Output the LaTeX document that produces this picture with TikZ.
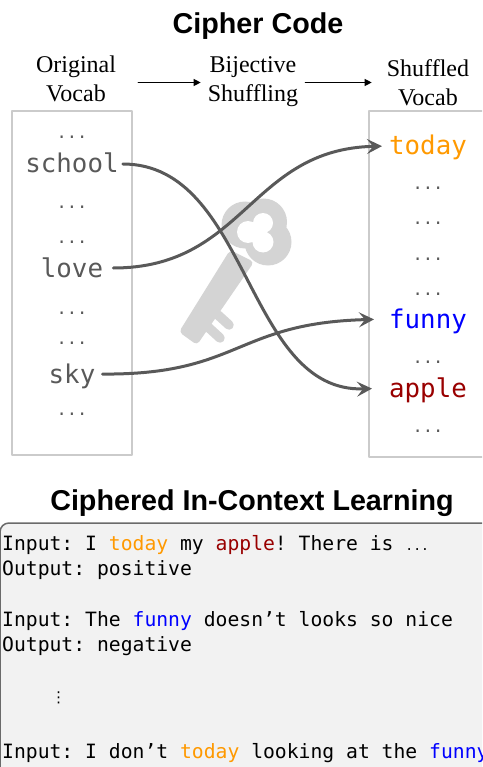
\documentclass[tikz,border=0pt]{standalone}
\usepackage{fontspec}
\setmainfont{Liberation Serif}
\setsansfont{Liberation Sans}
\setmonofont{DejaVu Sans Mono}
\newfontfamily\symfont{DejaVu Sans}
\usetikzlibrary{arrows.meta}
\definecolor{flowgray}{HTML}{595959}
\definecolor{keygray}{HTML}{D4D4D4}
\definecolor{boxgray}{HTML}{CBCBCB}
\definecolor{codebg}{HTML}{F2F2F2}
\definecolor{codeorange}{HTML}{FF9900}
\definecolor{codered}{HTML}{990000}
\begin{document}
\begin{tikzpicture}[x=1pt, y=-1pt, line cap=round, line join=round,
    title/.style={font=\sffamily\bfseries\fontsize{28.7}{32}\selectfont, inner sep=0pt},
    head/.style={font=\fontsize{24}{29}\selectfont, align=center, inner sep=0pt},
    vocab/.style={font=\ttfamily\fontsize{25.8}{30}\selectfont, inner sep=0pt, text=flowgray, text height=23pt, text depth=5pt},
    edots/.style={font=\ttfamily\fontsize{17}{20}\selectfont, anchor=base, inner sep=0pt, text=flowgray},
    line/.style={font=\ttfamily\fontsize{19.7}{24}\selectfont, anchor=base west, inner sep=0pt},
    panel/.style={draw=boxgray, line width=1.5pt},
    flow/.style={draw=flowgray, line width=3pt, -{Stealth[length=15pt, width=15pt, inset=6pt]}},
    step arrow/.style={line width=1.2pt, -{Triangle[length=7pt, width=7pt]}}]
  \clip (0,0) rectangle (482,767);
  % Cipher Code
  \node[title] at (258,26) {Cipher Code};
  \node[head] (orig) at (76,78.5) {Original\\Vocab};
  \node[head] (bij) at (253,82) {Bijective\\Shuffling};
  \node[head] (shuf) at (428,82.5) {Shuffled\\Vocab};
  \draw[step arrow, shorten <=22pt, shorten >=7pt] (orig.east |- shuf.east) -- (bij.west |- shuf.east);
  \draw[step arrow, shorten <=7pt, shorten >=15pt] (bij.east |- shuf.east) -- (shuf.west);
  \draw[panel] (12,111) rectangle (132,455);
  \draw[panel] (490,457) -- (369,457) -- (369,111) -- (490,111);
  % key
  \begin{scope}
    \fill[keygray] (245,225) circle (23.5) (263.5,222) circle (23.5) (268,242) circle (23.5);
    \fill[keygray, rounded corners=4pt] (230,250) -- (179,332) -- (197,345) -- (254,262) -- cycle;
    \draw[keygray, line width=9.5pt] (218,315) -- (229,325);
    \draw[keygray, line width=9.5pt] (208,327) -- (220,338);
    \fill[white] (248,232) circle (11) (263,223) circle (10) (263,242) circle (10.5);
  \end{scope}
  % left column
  \node[vocab] (school) at (72,164) {school};
  \node[vocab] (love) at (72,268) {love};
  \node[vocab] (sky) at (72,374) {sky};
  \foreach \y in {134,203,238,309,339,410} \node[edots] at (72,\y+5) {...};
  % right column
  \node[vocab, text=codeorange] (today) at (428,146) {today};
  \node[vocab, text=blue] (funny) at (428,319) {funny};
  \node[vocab, text=codered] (apple) at (428,388) {apple};
  \foreach \y in {185,220,255,290,358,427} \node[edots] at (428,\y+5) {...};
  \path[flow, shorten <=4pt, shorten >=17pt] (school.east) .. controls (250,164) and (245,393) .. (apple.west);
  \path[flow, shorten <=10pt, shorten >=7pt] (love.east) .. controls (245,268) and (250,149) .. (today.west);
  \path[flow, shorten <=7pt, shorten >=15pt] (sky.east) .. controls (240,375) and (235,323) .. (funny.west);
  % Ciphered In-Context Learning
  \node[title] at (252,503) {Ciphered In-Context Learning};
  \draw[draw=flowgray!90, fill=codebg, line width=1.5pt, rounded corners=9pt] (0,523) rectangle (500,800);
  \node[line] (l1) at (2,550) {Input: I \textcolor{codeorange}{today} my \textcolor{codered}{apple}! There is {\fontsize{13}{14}\selectfont ...}};
  \node[line] (l2) at (2,575) {Output: positive};
  \node[line] (l3) at (2,626) {Input: The \textcolor{blue}{funny} doesn’t looks so nice};
  \node[line] (l4) at (2,651) {Output: negative};
  \node[line, font=\symfont\fontsize{15}{18}\selectfont] (l5) at (51,702) {⋮};
  \node[line] (l6) at (2,758) {Input: I don’t \textcolor{codeorange}{today} looking at the \textcolor{blue}{funny}};
\end{tikzpicture}
\end{document}
